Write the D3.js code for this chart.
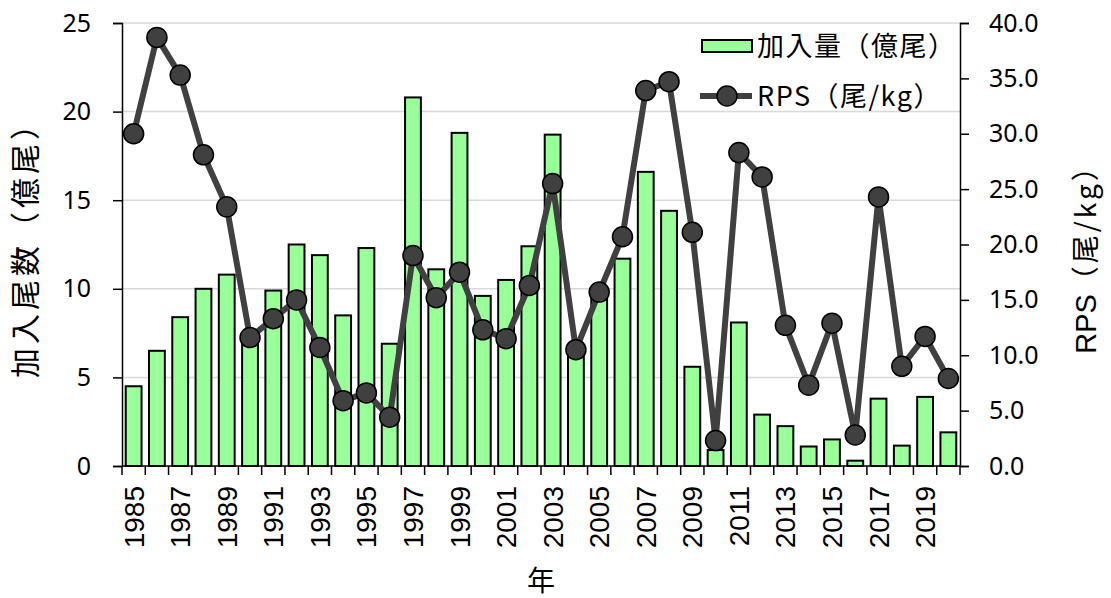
<!DOCTYPE html>
<html>
<head>
<meta charset="utf-8">
<script src="https://cdn.jsdelivr.net/npm/d3@7"></script>
<style>
  body { margin: 0; background: #fff; }
  svg { display: block; }
</style>
</head>
<body>
<div id="chart"></div>
<script>
// 年と値
const years = d3.range(1985, 2021);
const recruits = [4.5, 6.5, 8.4, 10.0, 10.8, 7.5, 9.9, 12.5, 11.9, 8.5,
                  12.3, 6.9, 20.8, 11.1, 18.8, 9.6, 10.5, 12.4, 18.7, 6.5,
                  9.9, 11.7, 16.6, 14.4, 5.6, 0.9, 8.1, 2.9, 2.25, 1.1,
                  1.5, 0.3, 3.8, 1.15, 3.9, 1.9];
const rps = [30.0, 38.7, 35.3, 28.1, 23.4, 11.6, 13.3, 15.0, 10.7, 5.9,
             6.6, 4.4, 19.0, 15.2, 17.5, 12.3, 11.5, 16.3, 25.5, 10.5,
             15.7, 20.7, 33.9, 34.7, 21.1, 2.3, 28.3, 26.1, 12.7, 7.3,
             12.9, 2.8, 24.3, 9.0, 11.7, 7.9];
const leftTicks = [0, 5, 10, 15, 20, 25];
const rightTicks = [0, 5, 10, 15, 20, 25, 30, 35, 40];
const legendLabels = ["加入量（億尾）", "RPS（尾/kg）"];

const W = 1111, H = 598;
const m = { left: 122, right: 151, top: 23, bottom: 132 };
const iw = W - m.left - m.right;
const ih = H - m.top - m.bottom;

const BAR = "#99ff99", LINE = "#404040";
const NUM_FONT = "'Noto Sans', 'DejaVu Sans', sans-serif";
const LAT_FONT = "'Liberation Sans', Arial, sans-serif";
const CJK_FONT = "'Noto Sans CJK JP', 'Noto Sans', sans-serif";

const svg = d3.select("#chart").append("svg")
    .attr("width", W).attr("height", H);
const g = svg.append("g").attr("transform", `translate(${m.left},${m.top})`);

const x = d3.scaleBand().domain(years).range([0, iw]).paddingInner(0.32).paddingOuter(0.16);
const yL = d3.scaleLinear().domain([0, 25]).range([ih, 0]);
const yR = d3.scaleLinear().domain([0, 40]).range([ih, 0]);

// グリッド線
g.append("g").selectAll("line").data(leftTicks.slice(1)).enter().append("line")
    .attr("x1", 0).attr("x2", iw)
    .attr("y1", d => yL(d)).attr("y2", d => yL(d))
    .attr("stroke", "#d9d9d9").attr("stroke-width", 1.5);

// 棒
g.append("g").selectAll("rect").data(years).enter().append("rect")
    .attr("x", d => x(d))
    .attr("y", (d, i) => yL(recruits[i]))
    .attr("width", x.bandwidth())
    .attr("height", (d, i) => ih - yL(recruits[i]))
    .attr("fill", BAR).attr("stroke", "#000").attr("stroke-width", 2);

// 左軸
const axL = g.append("g").call(d3.axisLeft(yL).tickValues(leftTicks).tickSize(9).tickPadding(22));
// 右軸
const axR = g.append("g").attr("transform", `translate(${iw},0)`)
    .call(d3.axisRight(yR).tickValues(rightTicks).tickSize(9).tickPadding(20).tickFormat(d3.format(".1f")));
[axL, axR].forEach(ax => {
  ax.select(".domain").attr("stroke", "#000").attr("stroke-width", 1.5);
  ax.selectAll(".tick line").attr("stroke", "#000").attr("stroke-width", 1.5);
  ax.selectAll("text").attr("font-family", NUM_FONT).attr("font-size", 25).attr("fill", "#000");
});

// 下軸（境界ごとに目盛り、ラベルは1年おき）
const gx = g.append("g").attr("transform", `translate(0,${ih})`);
gx.append("line").attr("x1", 0).attr("x2", iw).attr("stroke", "#000").attr("stroke-width", 1.5);
const bounds = d3.range(years.length + 1).map(i => i * iw / years.length);
gx.selectAll("line.tk").data(bounds).enter().append("line").attr("class", "tk")
    .attr("x1", d => d).attr("x2", d => d).attr("y1", 0).attr("y2", 9)
    .attr("stroke", "#000").attr("stroke-width", 1.5);
gx.selectAll("text").data(years.filter((d, i) => i % 2 === 0)).enter().append("text")
    .attr("transform", d => `translate(${x(d) + x.bandwidth() / 2 + 10},${20}) rotate(-90)`)
    .attr("text-anchor", "end")
    .attr("font-family", LAT_FONT).attr("font-size", 28)
    .text(d => d);

// RPS 折れ線
const line = d3.line().x((d, i) => x(years[i]) + x.bandwidth() / 2).y(d => yR(d));
g.append("path").datum(rps).attr("d", line)
    .attr("fill", "none").attr("stroke", LINE).attr("stroke-width", 6).attr("stroke-linejoin", "round");
g.append("g").selectAll("circle").data(rps).enter().append("circle")
    .attr("cx", (d, i) => x(years[i]) + x.bandwidth() / 2)
    .attr("cy", d => yR(d))
    .attr("r", 10)
    .attr("fill", LINE).attr("stroke", "#000").attr("stroke-width", 1.5);

// 軸タイトル
svg.append("text").attr("x", m.left + iw / 2).attr("y", 591).attr("text-anchor", "middle")
    .attr("font-family", CJK_FONT).attr("font-size", 28).text("年");
svg.append("text").attr("transform", `translate(36,242) rotate(-90)`)
    .attr("text-anchor", "middle").attr("font-family", CJK_FONT).attr("font-size", 30)
    .attr("letter-spacing", 4)
    .text("加入尾数（億尾）");
const rt = svg.append("text").attr("transform", `translate(1096,252) rotate(-90)`)
    .attr("text-anchor", "middle").attr("font-family", CJK_FONT).attr("font-size", 28);
rt.append("tspan").attr("font-family", LAT_FONT).attr("font-size", 29).text("RPS");
rt.append("tspan").attr("letter-spacing", 3).text("（尾/kg）");

// 凡例
const lg = svg.append("g").attr("transform", "translate(700,28)");
lg.append("rect").attr("x", -4).attr("y", 0).attr("width", 256).attr("height", 82).attr("fill", "#fff");
lg.append("rect").attr("x", 2).attr("y", 12).attr("width", 50).attr("height", 12)
    .attr("fill", BAR).attr("stroke", "#000").attr("stroke-width", 2);
lg.append("line").attr("x1", 0).attr("x2", 52).attr("y1", 68).attr("y2", 68)
    .attr("stroke", LINE).attr("stroke-width", 6);
lg.append("circle").attr("cx", 27).attr("cy", 68).attr("r", 10)
    .attr("fill", LINE).attr("stroke", "#000").attr("stroke-width", 1.5);
lg.selectAll("text").data(legendLabels).enter().append("text")
    .attr("x", 57).attr("y", (d, i) => 28 + i * 50)
    .attr("font-family", CJK_FONT).attr("font-size", 27).attr("letter-spacing", 1.5).text(d => d);
</script>
</body>
</html>
